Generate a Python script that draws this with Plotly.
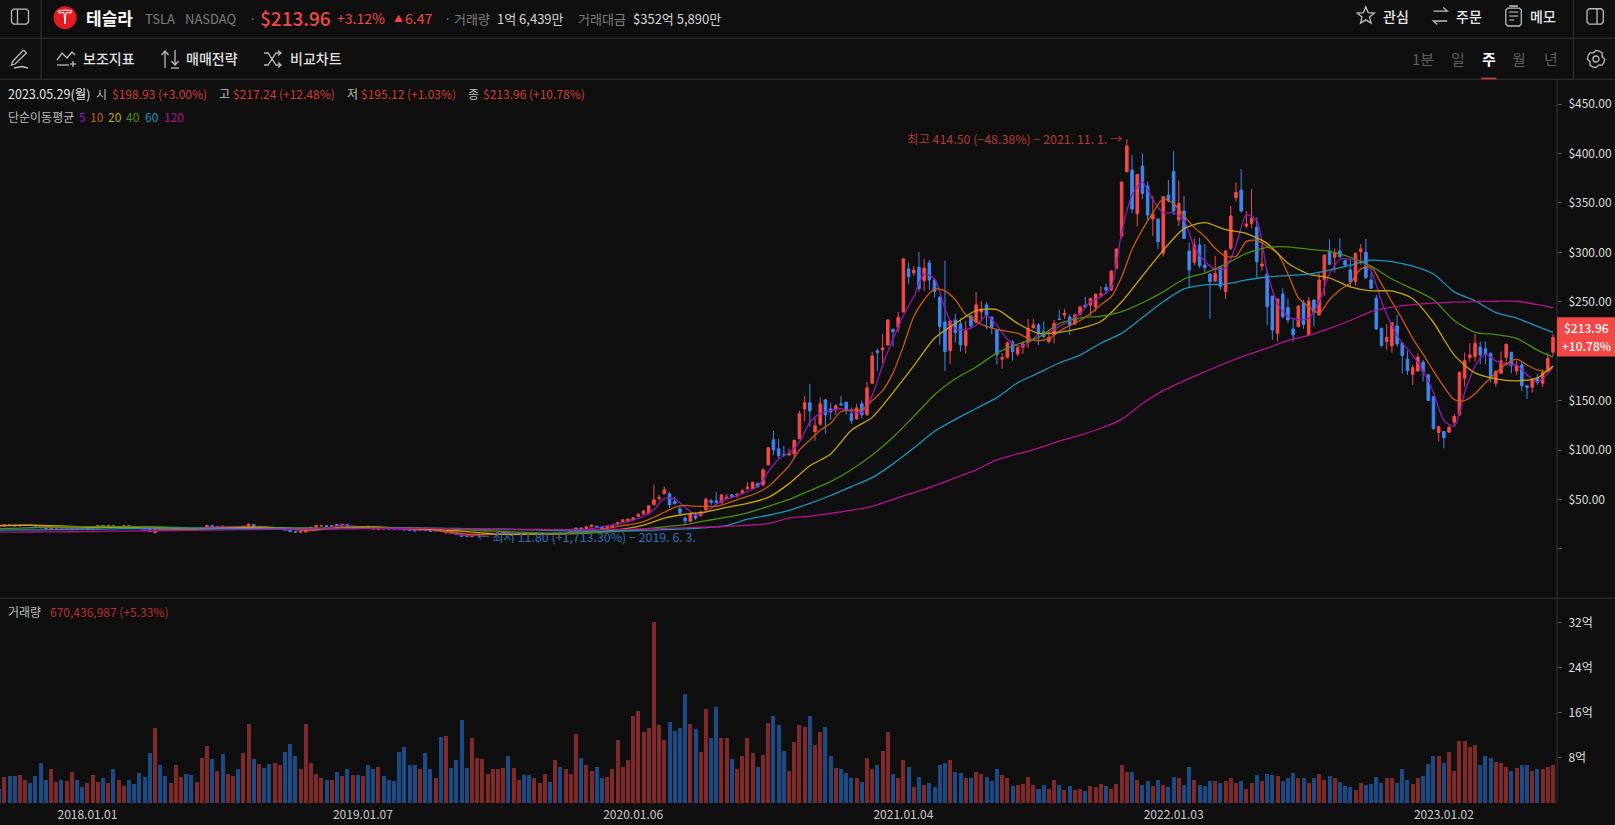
import math
import pandas as pd
import plotly.graph_objects as go
from plotly.subplots import make_subplots

# weekly TSLA candles, first week 2017-09-04, last 2023-05-29
opens = [
    24.0, 23.2, 24.7, 24.1, 23.3, 23.7, 24.3, 23.9, 22.9, 21.2,
    20.4, 20.8, 21.2, 20.7, 21.0, 21.7, 21.0, 20.8, 21.2, 22.4,
    23.6, 23.0, 23.4, 21.9, 22.4, 23.5, 22.8, 22.0, 21.0, 20.0,
    16.4, 19.4, 19.3, 18.9, 19.5, 19.6, 20.2, 19.8, 19.3, 19.9,
    21.5, 23.5, 21.5, 22.9, 20.7, 20.8, 21.2, 19.5, 23.0, 24.4,
    21.5, 21.8, 21.0, 19.8, 20.0, 20.2, 18.9, 17.5, 16.8, 17.0,
    20.5, 22.0, 23.2, 23.4, 22.8, 24.7, 23.2, 24.7, 21.5, 22.6,
    21.5, 22.8, 20.9, 19.6, 20.6, 20.3, 20.4, 20.9, 20.2, 19.5,
    18.9, 18.6, 19.5, 18.7, 18.0, 19.0, 16.0, 17.0, 15.9, 14.0,
    12.6, 12.4, 14.2, 14.7, 14.8, 15.0, 15.5, 15.9, 16.4, 15.0,
    15.1, 15.5, 15.0, 14.4, 14.7, 14.9, 15.6, 15.0, 16.3, 15.5,
    16.2, 17.0, 21.0, 20.3, 22.3, 23.0, 22.0, 21.7, 22.0, 24.7,
    27.4, 28.4, 29.4, 32.8, 35.5, 35.5, 44.6, 51.0, 55.7, 55.7,
    47.9, 40.5, 31.1, 27.7, 33.5, 33.5, 39.5, 48.6, 48.6, 46.6,
    51.0, 54.7, 54.3, 56.7, 60.7, 60.7, 66.4, 64.8, 85.0, 110.3,
    101.2, 95.5, 95.1, 96.1, 111.3, 141.6, 147.7, 118.7, 126.1, 150.7,
    141.6, 140.6, 146.7, 148.4, 136.6, 131.5, 146.7, 135.6, 167.6, 200.3,
    201.3, 206.3, 221.8, 224.2, 239.7, 283.2, 279.1, 284.9, 271.4, 289.2,
    272.0, 254.5, 229.6, 200.6, 231.6, 227.6, 205.7, 235.7, 228.9, 239.7,
    246.8, 234.3, 221.5, 191.9, 193.5, 209.4, 197.2, 204.0, 208.7, 223.5,
    226.6, 219.8, 209.6, 216.4, 232.5, 236.6, 234.6, 227.5, 237.3, 246.4,
    246.7, 244.7, 256.8, 264.6, 261.9, 283.8, 316.5, 381.5, 383.2, 339.0,
    387.2, 367.0, 333.7, 333.7, 299.0, 357.9, 382.0, 332.7, 341.7, 301.3,
    289.9, 307.4, 287.2, 278.0, 271.0, 284.8, 260.2, 304.0, 355.2, 363.0,
    326.6, 329.3, 325.2, 286.2, 278.0, 255.8, 218.0, 257.8, 244.0, 222.5,
    224.8, 249.0, 216.4, 251.8, 236.6, 272.7, 301.3, 295.0, 301.4, 291.6,
    282.2, 270.4, 300.7, 300.0, 272.0, 253.5, 223.2, 209.7, 205.3, 225.5,
    208.0, 191.8, 176.7, 180.0, 188.8, 176.0, 154.0, 117.7, 118.7, 118.0,
    128.2, 135.6, 172.6, 193.5, 194.5, 204.0, 202.3, 197.9, 167.6, 177.7,
    193.9, 198.9, 180.0, 186.0, 164.9, 163.5, 172.6, 167.6, 179.7, 198.93,
]
highs = [
    24.2, 24.9, 25.0, 24.4, 24.3, 24.5, 24.6, 24.1, 23.0, 21.5,
    21.4, 21.5, 21.5, 21.4, 21.9, 21.9, 21.2, 21.4, 22.7, 23.9,
    24.0, 23.8, 23.7, 22.8, 24.0, 23.8, 23.1, 22.2, 21.2, 20.9,
    19.5, 20.0, 19.6, 20.1, 20.4, 20.5, 20.5, 20.1, 20.0, 21.8,
    24.5, 23.9, 22.8, 23.3, 21.3, 21.6, 21.4, 23.3, 25.8, 24.8,
    22.4, 22.0, 21.2, 20.6, 20.8, 20.5, 19.1, 17.8, 17.6, 21.7,
    22.2, 24.0, 23.9, 23.7, 23.7, 25.2, 25.3, 24.9, 22.6, 22.9,
    22.6, 23.0, 21.1, 20.6, 20.9, 20.5, 20.7, 21.1, 20.4, 19.7,
    19.1, 19.7, 19.7, 18.9, 19.3, 19.2, 17.3, 17.2, 16.1, 14.2,
    13.0, 14.3, 14.8, 15.2, 16.0, 15.9, 16.3, 16.6, 16.6, 15.6,
    15.6, 15.7, 15.2, 15.0, 15.3, 15.9, 15.8, 16.5, 16.5, 16.2,
    17.5, 21.5, 22.0, 22.7, 24.3, 23.3, 22.3, 23.2, 24.2, 27.4,
    29.5, 30.3, 32.0, 36.0, 39.5, 44.0, 64.8, 54.7, 62.8, 57.7,
    52.7, 43.9, 32.8, 37.8, 36.8, 38.5, 51.6, 50.6, 57.7, 55.0,
    55.7, 55.3, 55.4, 60.7, 67.8, 68.1, 66.6, 81.6, 103.2, 119.4,
    111.3, 104.2, 101.2, 110.9, 139.6, 154.8, 166.9, 132.2, 153.4, 151.7,
    147.4, 146.4, 154.8, 148.7, 143.3, 146.7, 150.0, 168.9, 199.3, 202.3,
    217.5, 232.3, 223.2, 239.7, 294.3, 289.6, 286.2, 300.4, 293.3, 292.6,
    273.0, 255.9, 291.3, 231.0, 237.7, 233.3, 230.6, 236.7, 259.9, 250.8,
    249.8, 235.0, 222.0, 197.9, 209.7, 211.4, 204.7, 209.7, 232.6, 232.6,
    228.3, 229.9, 220.8, 231.5, 241.7, 242.7, 237.3, 238.3, 246.0, 254.8,
    254.4, 258.5, 265.6, 268.6, 282.0, 304.0, 372.0, 414.5, 398.4, 379.0,
    400.0, 371.4, 357.0, 334.0, 357.0, 373.0, 402.4, 372.4, 357.0, 310.0,
    314.0, 315.0, 308.4, 279.0, 296.3, 285.5, 302.3, 346.8, 370.7, 384.2,
    341.7, 364.0, 335.3, 307.4, 282.1, 256.0, 253.0, 263.6, 253.4, 233.2,
    246.7, 251.8, 255.1, 252.4, 279.0, 297.5, 313.1, 304.0, 314.2, 292.0,
    292.3, 299.5, 308.4, 313.5, 279.5, 256.9, 223.5, 227.6, 229.0, 236.7,
    208.5, 200.6, 186.0, 197.9, 191.2, 176.5, 154.5, 124.5, 119.0, 124.0,
    136.6, 179.4, 198.6, 208.0, 217.5, 209.7, 209.7, 198.6, 181.0, 199.6,
    207.5, 199.0, 190.5, 189.5, 165.5, 171.0, 177.0, 181.7, 197.9, 217.24,
]
lows = [
    23.0, 23.1, 23.7, 22.9, 23.0, 23.5, 23.5, 22.7, 20.9, 20.2,
    20.2, 20.6, 20.6, 20.5, 20.7, 20.7, 20.5, 20.6, 21.1, 22.2,
    22.6, 22.7, 22.2, 21.6, 22.1, 22.5, 21.9, 20.9, 20.1, 17.3,
    15.6, 18.3, 18.6, 18.6, 19.2, 19.3, 19.4, 19.0, 19.0, 19.6,
    21.2, 21.7, 21.2, 20.6, 20.4, 20.5, 20.3, 19.2, 22.7, 21.0,
    21.0, 20.8, 19.7, 19.4, 19.7, 18.6, 17.2, 16.3, 16.5, 16.5,
    20.2, 21.7, 22.9, 22.5, 22.5, 22.9, 22.9, 22.2, 21.2, 21.6,
    21.2, 20.9, 19.8, 19.3, 19.9, 19.7, 19.6, 19.6, 18.9, 18.4,
    17.9, 18.3, 18.1, 17.4, 17.7, 17.3, 15.7, 15.6, 14.6, 12.4,
    12.1, 11.8, 13.9, 14.4, 14.5, 14.7, 15.2, 15.6, 14.9, 14.7,
    14.8, 14.7, 14.3, 14.1, 14.4, 14.6, 14.7, 14.7, 15.2, 15.2,
    15.9, 16.8, 19.3, 20.0, 22.0, 21.4, 20.0, 21.5, 21.8, 23.4,
    27.2, 26.7, 28.7, 32.0, 34.5, 35.0, 44.3, 49.0, 55.4, 41.2,
    45.0, 33.8, 23.3, 27.0, 29.4, 32.8, 38.5, 44.6, 45.6, 46.0,
    50.6, 52.0, 51.6, 56.3, 60.4, 60.4, 61.4, 63.1, 84.3, 95.1,
    91.7, 94.0, 94.0, 91.0, 111.0, 128.8, 123.8, 109.3, 124.5, 116.4,
    130.5, 135.6, 145.0, 135.6, 126.5, 130.5, 131.9, 134.6, 166.6, 180.0,
    187.8, 205.7, 204.7, 218.8, 239.0, 268.0, 276.4, 260.3, 261.3, 262.0,
    254.2, 206.3, 180.0, 186.8, 208.7, 199.6, 197.9, 222.9, 228.2, 229.9,
    222.2, 217.1, 186.1, 182.1, 192.9, 190.2, 194.5, 197.2, 203.0, 223.0,
    206.3, 213.0, 208.0, 208.0, 231.5, 232.6, 216.4, 226.5, 236.0, 244.0,
    236.0, 240.0, 254.0, 257.5, 261.0, 283.0, 314.0, 381.0, 339.4, 326.0,
    353.9, 332.7, 316.5, 303.0, 295.6, 350.5, 337.7, 326.6, 313.4, 264.0,
    287.2, 283.8, 279.7, 232.6, 270.0, 262.0, 252.8, 302.3, 351.2, 340.4,
    324.2, 324.2, 274.4, 281.4, 226.5, 211.3, 209.6, 233.0, 228.2, 209.6,
    224.0, 222.5, 215.7, 224.8, 236.0, 256.0, 287.0, 279.5, 294.0, 285.0,
    265.3, 266.3, 287.2, 273.0, 262.6, 221.5, 204.6, 201.3, 198.6, 204.6,
    177.7, 176.0, 165.9, 179.4, 169.3, 149.5, 121.0, 108.6, 101.8, 117.5,
    123.8, 134.9, 163.5, 189.5, 189.5, 186.8, 186.8, 168.3, 164.2, 177.0,
    185.4, 177.7, 176.0, 159.8, 151.7, 158.1, 165.9, 163.5, 179.4, 195.12,
]
closes = [
    23.2, 24.7, 24.0, 23.3, 24.1, 24.3, 23.8, 23.0, 21.2, 20.5,
    21.2, 21.2, 20.8, 21.2, 21.6, 20.9, 20.7, 21.2, 22.4, 23.6,
    23.0, 23.5, 22.5, 22.5, 23.5, 22.8, 22.1, 21.2, 20.4, 17.6,
    19.3, 19.0, 18.9, 19.8, 20.0, 20.2, 19.7, 19.3, 19.8, 21.5,
    23.6, 22.0, 22.5, 21.0, 21.0, 21.3, 20.6, 23.0, 24.9, 22.0,
    21.9, 21.1, 20.0, 20.3, 20.5, 18.9, 17.5, 16.9, 17.2, 20.7,
    21.8, 23.6, 23.5, 22.9, 23.4, 23.3, 24.8, 22.5, 22.3, 21.9,
    22.3, 21.2, 20.1, 20.2, 20.2, 20.0, 19.9, 19.9, 19.2, 18.7,
    18.2, 19.4, 18.4, 17.7, 19.0, 17.6, 17.0, 15.9, 14.9, 12.7,
    12.4, 14.1, 14.4, 14.9, 15.6, 15.5, 16.0, 16.3, 15.2, 15.3,
    15.4, 15.0, 14.6, 14.8, 15.0, 15.6, 15.0, 16.2, 15.5, 15.9,
    17.2, 21.0, 20.3, 22.3, 24.0, 21.7, 20.3, 23.0, 24.0, 26.7,
    29.4, 30.1, 31.4, 34.8, 38.2, 43.6, 49.6, 52.0, 59.7, 44.6,
    45.6, 36.2, 28.4, 35.5, 31.1, 37.2, 50.3, 46.9, 46.9, 54.7,
    52.3, 52.6, 55.3, 58.7, 62.4, 67.1, 63.0, 79.9, 102.2, 100.2,
    94.4, 95.0, 96.8, 109.6, 136.6, 147.7, 139.6, 124.5, 146.7, 135.6,
    138.5, 144.7, 145.7, 139.6, 129.8, 142.6, 135.6, 162.9, 195.2, 198.6,
    203.3, 231.6, 219.8, 234.3, 293.3, 275.4, 281.8, 263.6, 283.9, 272.0,
    260.3, 224.9, 199.6, 230.6, 218.8, 206.3, 220.5, 225.6, 246.8, 242.4,
    236.7, 223.9, 196.2, 193.5, 208.4, 199.6, 203.3, 207.4, 223.2, 226.6,
    217.5, 214.7, 214.0, 228.2, 232.0, 238.3, 226.5, 236.6, 244.7, 244.7,
    253.1, 257.5, 257.8, 261.9, 281.1, 303.3, 371.0, 407.5, 343.8, 378.8,
    359.6, 337.7, 338.7, 310.7, 356.2, 351.9, 341.7, 349.5, 314.1, 282.1,
    307.4, 286.5, 284.5, 270.3, 278.7, 265.3, 301.3, 336.7, 360.6, 341.7,
    328.6, 334.3, 290.5, 288.2, 245.0, 221.4, 252.8, 234.9, 231.6, 216.4,
    245.7, 227.2, 250.8, 239.3, 272.0, 297.3, 287.8, 299.0, 295.6, 287.2,
    270.4, 299.0, 303.4, 274.4, 263.6, 222.5, 205.7, 214.0, 228.9, 207.3,
    195.6, 180.4, 183.4, 193.9, 179.4, 150.0, 121.4, 123.8, 112.6, 123.0,
    133.9, 178.4, 190.5, 196.2, 208.0, 196.2, 197.2, 172.6, 179.4, 190.2,
    207.0, 185.4, 185.0, 165.2, 163.2, 170.3, 168.3, 178.4, 192.9, 213.96,
]
# volume in 억 shares
volumes = [
    2.5, 4.6, 4.7, 4.7, 5.0, 4.1, 3.55, 4.7, 7.1, 4.1,
    5.9, 3.7, 4.1, 3.9, 5.5, 4.1, 2.7, 3.55, 5.0, 3.7,
    4.3, 3.55, 6.0, 4.1, 3.0, 4.1, 3.4, 5.3, 4.6, 8.9,
    13.3, 6.6, 4.7, 3.55, 6.6, 4.6, 5.15, 5.0, 3.7, 8.0,
    10.1, 7.8, 5.7, 8.7, 5.15, 4.8, 5.9, 8.9, 14.0, 7.8,
    6.9, 6.2, 6.9, 7.1, 6.75, 9.05, 10.5, 8.2, 6.0, 14.0,
    7.1, 5.15, 4.4, 4.1, 4.1, 5.5, 4.8, 6.0, 5.0, 5.0,
    4.8, 6.6, 6.0, 6.4, 4.8, 4.1, 3.9, 9.05, 9.8, 6.6,
    6.6, 6.0, 8.9, 6.0, 4.3, 11.7, 11.9, 6.2, 7.6, 14.7,
    6.2, 11.5, 8.0, 7.8, 5.15, 5.9, 5.9, 6.2, 8.3, 6.2,
    4.1, 5.0, 5.0, 4.3, 3.55, 5.15, 3.7, 7.6, 6.4, 5.9,
    5.15, 12.2, 8.0, 6.75, 5.7, 6.4, 4.3, 4.6, 6.0, 11.2,
    6.4, 7.6, 15.3, 16.3, 12.6, 13.3, 32.1, 13.7, 11.2, 14.4,
    12.8, 13.3, 19.2, 14.0, 13.0, 9.05, 16.7, 11.5, 17.0, 11.4,
    11.5, 7.8, 5.9, 8.2, 11.5, 8.9, 6.4, 8.5, 14.2, 15.4,
    13.8, 9.2, 5.7, 10.8, 13.7, 13.5, 15.3, 10.3, 12.6, 13.5,
    8.2, 6.2, 5.9, 5.3, 4.3, 4.4, 3.7, 8.0, 5.9, 6.75,
    9.2, 12.6, 5.15, 4.4, 7.6, 6.4, 2.8, 4.6, 3.2, 3.55,
    2.7, 6.75, 7.1, 7.6, 5.5, 5.3, 4.3, 4.3, 5.5, 5.15,
    4.6, 3.9, 5.9, 5.0, 4.3, 3.0, 3.2, 3.4, 4.6, 3.2,
    2.5, 3.2, 2.5, 4.1, 3.2, 2.25, 3.0, 2.25, 2.5, 2.1,
    3.0, 2.8, 3.4, 3.0, 2.5, 3.4, 6.75, 5.5, 5.5, 4.1,
    3.2, 3.9, 3.0, 4.1, 3.2, 2.8, 4.6, 4.3, 3.2, 6.4,
    4.1, 3.2, 3.0, 3.9, 3.9, 3.55, 3.9, 4.4, 3.55, 3.9,
    2.5, 3.55, 5.0, 3.9, 5.15, 5.0, 4.8, 3.9, 4.4, 5.3,
    4.3, 4.4, 3.55, 4.4, 5.15, 4.1, 4.8, 4.4, 3.7, 3.0,
    2.7, 2.3, 3.55, 3.2, 3.4, 4.6, 3.55, 4.3, 4.3, 3.55,
    6.0, 4.1, 3.4, 4.4, 4.8, 6.9, 8.3, 8.2, 7.1, 9.05,
    5.7, 11.0, 11.0, 9.8, 10.3, 6.75, 8.2, 8.0, 7.3, 7.1,
    6.4, 5.7, 6.2, 6.75, 6.75, 5.7, 5.9, 5.9, 6.4, 6.7,
]

# moving averages at these week numbers
fast_weeks = list(range(0, 120, 6)) + list(range(120, 300, 2)) + [299]
slow_weeks = list(range(0, 300, 4)) + [299]

ma5 = [
    23.8, 24, 21, 21.5, 22.5, 18.5, 19.8, 22.2, 21.8, 20.7,
    18.8, 23.5, 21, 19.8, 18.5, 13.5, 15.2, 15.1, 15.3, 20.5,
    26, 29, 33, 39.5, 51, 50.5, 42, 34.5, 37, 45,
    50.5, 53.5, 58, 63, 78, 91, 97, 108, 128, 137,
    140, 142, 139, 138, 155, 186, 212, 236, 255, 278,
    273, 243, 222, 222, 226, 236, 226, 212, 205, 208,
    217, 219, 225, 231, 238, 250, 255, 265, 320, 358,
    371, 353, 340, 340, 332, 305, 291, 283, 284, 307,
    338, 332, 280, 248, 235, 232, 233, 250, 278, 293,
    293, 291, 281, 250, 226, 208, 196, 180, 158, 130,
    124, 158, 185, 197, 190, 187, 186, 176, 169, 177, 184,
]
ma10 = [
    23.3, 24, 21.7, 21.2, 22.4, 20.3, 19, 21.5, 22.2, 21.2,
    18.5, 22, 22, 20.5, 19, 14.8, 14.6, 15.2, 15.2, 18.2,
    23.5, 25, 27.5, 32, 37, 42, 44, 43, 43, 43,
    46, 49.6, 53, 57, 63, 73, 84, 100, 110, 120,
    127, 139, 140.5, 140.5, 150, 160, 178, 205, 235, 252,
    263, 261, 252, 237, 230, 225, 222, 220, 218, 213,
    210.5, 213, 220, 226, 231, 238, 247, 255, 275, 303,
    323, 340, 354, 349, 337, 325, 316, 304, 296, 296,
    311, 312, 306, 299, 278, 254, 245, 238.5, 252, 262,
    269, 283, 285, 268, 250, 232, 213, 197, 180, 164,
    151, 150, 157, 168, 178, 187, 192, 186, 181, 180, 185,
]
ma20 = [
    23.5, 23.7, 23.8, 23.2, 22.2, 21.7, 21.9, 22.3, 21.5, 19.9,
    19.9, 21, 21.7, 21.8, 21, 19.8, 20.5, 21.8, 22.2, 21.5,
    20.4, 19.5, 18.3, 16.5, 15, 14.6, 15.1, 15.2, 15.7, 17.5,
    20, 24, 31, 35, 37.5, 42, 46, 52, 66, 84,
    96, 120, 133, 158, 185, 213, 228, 241, 242, 228,
    218, 219, 223, 230, 250, 276, 302, 324, 330, 323,
    319, 309, 289, 278, 274, 265, 261, 261, 253, 229,
    196, 178, 172, 170, 173, 185,
]
ma40 = [
    20.5, 21, 21.7, 22.1, 22.4, 22.6, 22.5, 22.3, 22, 21.3,
    20.8, 20.3, 20.5, 21, 21.3, 21, 20.8, 20.9, 21, 21.4,
    21.3, 20.5, 19.8, 18.8, 17.8, 16.9, 16.1, 15.8, 16, 16.8,
    18, 20, 22.3, 24.5, 28.5, 32, 36.5, 43, 50, 59,
    68, 80, 95, 113, 134, 156, 172, 184, 198, 207,
    214, 228, 233.5, 235.5, 240, 249, 260, 273, 279, 288,
    299, 305, 305.5, 303, 301, 295, 286, 273, 263, 252,
    231, 219, 216.8, 213, 201, 194,
]
ma60 = [
    19, 19.2, 19.3, 19.5, 19.7, 20, 20.4, 20.7, 20.9, 21,
    20.8, 20.6, 20.6, 20.7, 20.7, 20.6, 20.5, 20.6, 20.7, 20.8,
    20.9, 20.9, 20.6, 20.2, 19.9, 19.5, 19, 18.5, 18.1, 18,
    18.1, 18.6, 19.4, 20.2, 21.5, 23.6, 30, 34, 39, 46,
    54, 63, 72, 86, 102, 119, 131, 142, 153, 168,
    178, 188, 196, 208, 218, 234, 250, 263, 267, 268,
    272, 275, 276.5, 278, 282, 287, 292, 290.5, 286, 278,
    260, 251, 239, 233.5, 225, 219,
]
ma120 = [
    16.9, 17, 17.1, 17.2, 17.4, 17.7, 18, 18.3, 18.6, 18.9,
    19.1, 19.3, 19.5, 19.7, 19.9, 20.1, 20.3, 20.5, 20.6, 20.7,
    20.7, 20.6, 20.4, 20.2, 20, 19.8, 19.6, 19.4, 19.4, 19.5,
    19.7, 20.1, 20.7, 21.3, 22, 22.8, 23.9, 25.5, 31, 33,
    36, 39, 43, 50, 57, 64, 72, 80, 90, 96,
    102, 109, 115, 122, 131, 147, 160, 170, 179, 188,
    196, 203, 211, 216, 223, 231, 240, 244.5, 247, 248.5,
    249.6, 250.2, 250.5, 250.5, 247, 244,
]
ma_names = ["5", "10", "20", "40", "60", "120"]
ma_colors = ["#8e1bb5", "#c9590f", "#c9a50a", "#4f8c12", "#1a97bd", "#b5128f"]

# $200.00 sits under the last price tag, so it has no label here
price_ticks = [0, 50, 100, 150, 200, 250, 300, 350, 400, 450]
price_labels = ["", "$50.00", "$100.00", "$150.00", "", "$250.00", "$300.00", "$350.00", "$400.00", "$450.00"]
volume_ticks = [8, 16, 24, 32]
volume_labels = ["8억", "16억", "24억", "32억"]
date_ticks = ["2018-01-01", "2019-01-07", "2020-01-06", "2021-01-04", "2022-01-03", "2023-01-02"]
date_labels = ["2018.01.01", "2019.01.07", "2020.01.06", "2021.01.04", "2022.01.03", "2023.01.02"]

BG = "#0f0f0f"
RED = "#f44848"
BLUE = "#3f86f0"
LINE = "#363636"
FONT = "Noto Sans CJK KR"

# plot area in page pixels
W, H = 1615, 825
PLOT_R, PLOT_T, PLOT_B, SPLIT = 1556.7, 80, 803.3, 598.5
PLOT_H = PLOT_B - PLOT_T


def fx(x):
    return x / PLOT_R


def fy(y):
    return (PLOT_B - y) / PLOT_H


annotations = []
shapes = []


def label(x, y, text, color="#cccccc", size=12, weight=400, anchor="left"):
    annotations.append(dict(
        x=fx(x), y=fy(y), xref="paper", yref="paper", text=text, showarrow=False,
        xanchor=anchor, yanchor="middle", align=anchor, xshift=-2 if anchor == "left" else 0,
        font=dict(family=FONT, size=size, color=color, weight=weight),
    ))


def rule(x0, y0, x1, y1, color=LINE, width=1):
    shapes.append(dict(type="line", xref="paper", yref="paper", x0=fx(x0), y0=fy(y0), x1=fx(x1), y1=fy(y1),
                       line=dict(color=color, width=width)))


def poly(points, color="#bdbdbd", width=1.3, close=False):
    d = "M " + " L ".join(f"{fx(p[0]):.5f} {fy(p[1]):.5f}" for p in points)
    if close:
        d += " Z"
    shapes.append(dict(type="path", xref="paper", yref="paper", path=d, line=dict(color=color, width=width)))


def box(x0, y0, x1, y1, r=2, color="#bdbdbd", width=1.3):
    poly([(x0 + r, y0), (x1 - r, y0), (x1, y0 + r), (x1, y1 - r), (x1 - r, y1), (x0 + r, y1), (x0, y1 - r), (x0, y0 + r)],
         color, width, True)


dates = pd.date_range("2017-09-04", periods=len(closes), freq="7D")
vol_colors = ["#7f2a2a" if c >= o else "#1c4a85" for o, c in zip(opens, closes)]

fig = make_subplots(rows=2, cols=1, shared_xaxes=True, vertical_spacing=0)
fig.add_trace(go.Candlestick(
    x=dates, open=opens, high=highs, low=lows, close=closes,
    increasing=dict(line=dict(color=RED, width=1), fillcolor=RED),
    decreasing=dict(line=dict(color=BLUE, width=1), fillcolor=BLUE),
    whiskerwidth=0, hoverinfo="skip",
), row=1, col=1)

ma_series = [(fast_weeks, ma5), (fast_weeks, ma10), (slow_weeks, ma20), (slow_weeks, ma40), (slow_weeks, ma60), (slow_weeks, ma120)]
for name, color, (weeks, values) in zip(ma_names, ma_colors, ma_series):
    fig.add_trace(go.Scatter(
        x=[dates[w] for w in weeks], y=values, mode="lines", name=name,
        line=dict(color=color, width=1.3, shape="spline", smoothing=0.7), hoverinfo="skip",
    ), row=1, col=1)

fig.add_trace(go.Bar(x=dates, y=volumes, marker=dict(color=vol_colors, line_width=0),
                     width=4.0 / 5.196 * 7 * 86400000, hoverinfo="skip"), row=2, col=1)

# header texts
label(86, 17, "테슬라", "#ffffff", 17, 700)
label(144.6, 18, "TSLA", "#7d7d7d", 13)
label(184.6, 18, "NASDAQ", "#7d7d7d", 13)
label(249, 18, "·", "#7d7d7d", 13)
label(260, 17.5, "$213.96", RED, 19, 500)
label(336.5, 18, "+3.12%", RED, 14)
label(394, 18, "▲", RED, 9)
label(405, 18, "6.47", RED, 14)
label(444, 18, "·", "#7d7d7d", 13)
label(453.6, 18, "거래량", "#7d7d7d", 13)
label(497, 18, "1억 6,439만", "#d5d5d5", 13)
label(577.6, 18, "거래대금", "#7d7d7d", 13)
label(632.7, 18, "$352억 5,890만", "#d5d5d5", 13)
label(1382.7, 15.5, "관심", "#e8e8e8", 14, 500)
label(1456, 15.5, "주문", "#e8e8e8", 14, 500)
label(1530, 15.5, "메모", "#e8e8e8", 14, 500)

label(82.6, 58, "보조지표", "#e0e0e0", 14, 500)
label(186.4, 58, "매매전략", "#e0e0e0", 14, 500)
label(289.7, 58, "비교차트", "#e0e0e0", 14, 500)
label(1411.7, 58, "1분", "#5e5e5e", 15)
label(1450.7, 58, "일", "#5e5e5e", 15)
label(1481.7, 58, "주", "#ffffff", 15, 700)
label(1511.7, 58, "월", "#5e5e5e", 15)
label(1544, 58, "년", "#5e5e5e", 15)
rule(1481, 78.7, 1496, 78.7, RED, 2)

# OHLC row
label(8.3, 94, "2023.05.29(월)", "#e6e6e6", 12.5)
label(96.4, 94, "시", "#bdbdbd", 12)
label(111.6, 94, "$198.93 (+3.00%)", "#d33c3c", 12)
label(218.5, 94, "고", "#bdbdbd", 12)
label(232.8, 94, "$217.24 (+12.48%)", "#d33c3c", 12)
label(346.6, 94, "저", "#bdbdbd", 12)
label(361.3, 94, "$195.12 (+1.03%)", "#d33c3c", 12)
label(468.3, 94, "종", "#bdbdbd", 12)
label(483, 94, "$213.96 (+10.78%)", "#d33c3c", 12)

label(8.3, 116.5, "단순이동평균", "#bdbdbd", 12)
for x, name, color in zip([79, 90.4, 108.4, 126.3, 145, 164], ma_names, ma_colors):
    label(x, 116.5, name, color, 12)

label(1124, 138.7, "최고 414.50 (−48.38%) − 2021. 11. 1. →", "#b23a3a", 12.4, anchor="right")
label(477, 537, "← 최저 11.80 (+1,713.30%) − 2019. 6. 3.", "#2f6fb8", 12.4)
label(8, 612, "거래량", "#bdbdbd", 12)
label(50, 612, "670,436,987 (+5.33%)", "#b83232", 12)

# frame lines
rule(0, 38.3, W, 38.3)
rule(0, 79.3, W, 79.3)
rule(0, SPLIT, W, SPLIT)
rule(41, 0, 41, 79.3)
rule(1573.3, 0, 1573.3, 79.3)
rule(PLOT_R, 79.3, PLOT_R, PLOT_B)

# last price tag
shapes.append(dict(type="rect", xref="paper", yref="paper", x0=fx(PLOT_R), x1=fx(W), y0=fy(317.3), y1=fy(356.7),
                   fillcolor=RED, line_width=0, layer="above"))
label(1586, 327.5, "$213.96", "#ffffff", 12, 500, anchor="center")
label(1586, 346, "+10.78%", "#ffffff", 12, 500, anchor="center")

# toolbar icons
box(11.5, 9, 28.5, 24)
rule(17.5, 9, 17.5, 24, "#bdbdbd", 1.3)
box(1586.7, 8.7, 1603, 24)
rule(1596.7, 8.7, 1596.7, 24, "#bdbdbd", 1.3)
shapes.append(dict(type="circle", xref="paper", yref="paper", x0=fx(53.5), x1=fx(76.5), y0=fy(29.2), y1=fy(6.2),
                   fillcolor="#e31b23", line_width=0))
poly([(58, 11), (65, 10), (72, 11), (71, 13), (66, 12.5), (65, 24), (64, 12.5), (59, 13)], "#ffffff", 1, True)

star = []
for k in range(10):
    rad = 9 if k % 2 == 0 else 4
    ang = -math.pi / 2 + k * math.pi / 5
    star.append((1365.5 + rad * math.cos(ang), 15.8 + rad * math.sin(ang)))
poly(star, close=True)
poly([(1433, 11), (1447, 11), (1443, 7.5)])
poly([(1447, 21), (1433, 21), (1437, 24.5)])
box(1505.5, 8, 1521, 26)
rule(1509, 6, 1517.5, 6, "#bdbdbd", 1.6)
for y in [12, 16, 20]:
    rule(1509, y, 1518 if y < 20 else 1514, y, "#bdbdbd", 1.1)

poly([(23.5, 50), (26.5, 53), (15, 64), (11.5, 65), (12.5, 61.5), (23.5, 50)])
poly([(14, 68), (22, 66.5), (28, 68)])
poly([(57, 60), (62, 53), (67, 58), (72, 52), (75, 55)])
rule(57, 65, 69, 65, "#bdbdbd", 1.3)
rule(73, 61, 73, 67, "#bdbdbd", 1.3)
rule(70, 64, 76, 64, "#bdbdbd", 1.3)
poly([(161.5, 55), (165, 51), (168.5, 55)])
rule(165, 51, 165, 68, "#bdbdbd", 1.3)
poly([(171.5, 61), (175, 65), (178.5, 61)])
rule(175, 50, 175, 65, "#bdbdbd", 1.3)
rule(171, 68, 179, 68, "#bdbdbd", 1.3)
poly([(264, 53), (268, 53), (276, 65), (280, 65)])
poly([(264, 65), (268, 65), (276, 53), (280, 53)])
poly([(278, 50.5), (281, 53), (278, 55.5)])
poly([(278, 62.5), (281, 65), (278, 67.5)])

gear = []
for k in range(16):
    rad = 8.6 if k % 4 != 3 else 6.6
    ang = k * math.pi / 8
    gear.append((1595.7 + rad * math.cos(ang), 59 + rad * math.sin(ang)))
poly(gear, close=True)
shapes.append(dict(type="circle", xref="paper", yref="paper", x0=fx(1592.7), x1=fx(1598.7), y0=fy(62), y1=fy(56),
                   line=dict(color="#bdbdbd", width=1.3)))

fig.update_layout(
    width=W, height=H,
    margin=dict(l=0, r=W - PLOT_R, t=PLOT_T, b=H - PLOT_B, pad=0),
    paper_bgcolor=BG, plot_bgcolor=BG,
    showlegend=False, hovermode=False,
    boxgap=0.3, bargap=0,
    annotations=annotations, shapes=shapes,
    font=dict(family=FONT, color="#d8d8d8", size=12),
)
x_range = ["2017-09-05 05:00", "2023-06-03 09:30"]
fig.update_xaxes(range=x_range, showgrid=False, zeroline=False, showline=False, rangeslider_visible=False, ticks="")
fig.update_xaxes(tickvals=date_ticks, ticktext=date_labels, tickfont=dict(size=12, color="#cccccc"), ticklabelstandoff=3, row=2, col=1)
fig.update_yaxes(side="right", showgrid=False, zeroline=False, showline=False, ticks="outside", ticklen=4,
                 tickcolor="#555555", tickfont=dict(size=12, color="#dddddd"), ticklabelstandoff=4)
fig.update_layout(
    yaxis=dict(domain=[(PLOT_B - SPLIT) / PLOT_H, 1], range=[-50, 474.3], tickvals=price_ticks, ticktext=price_labels),
    yaxis2=dict(domain=[0, (PLOT_B - SPLIT) / PLOT_H], range=[0, 36.3], tickvals=volume_ticks, ticktext=volume_labels),
)

# the page's default body margin would push the chart 8px off the window
fig.write_html("out.html", config={"displayModeBar": False},
               post_script="document.body.style.margin='0';document.body.style.overflow='hidden';")
